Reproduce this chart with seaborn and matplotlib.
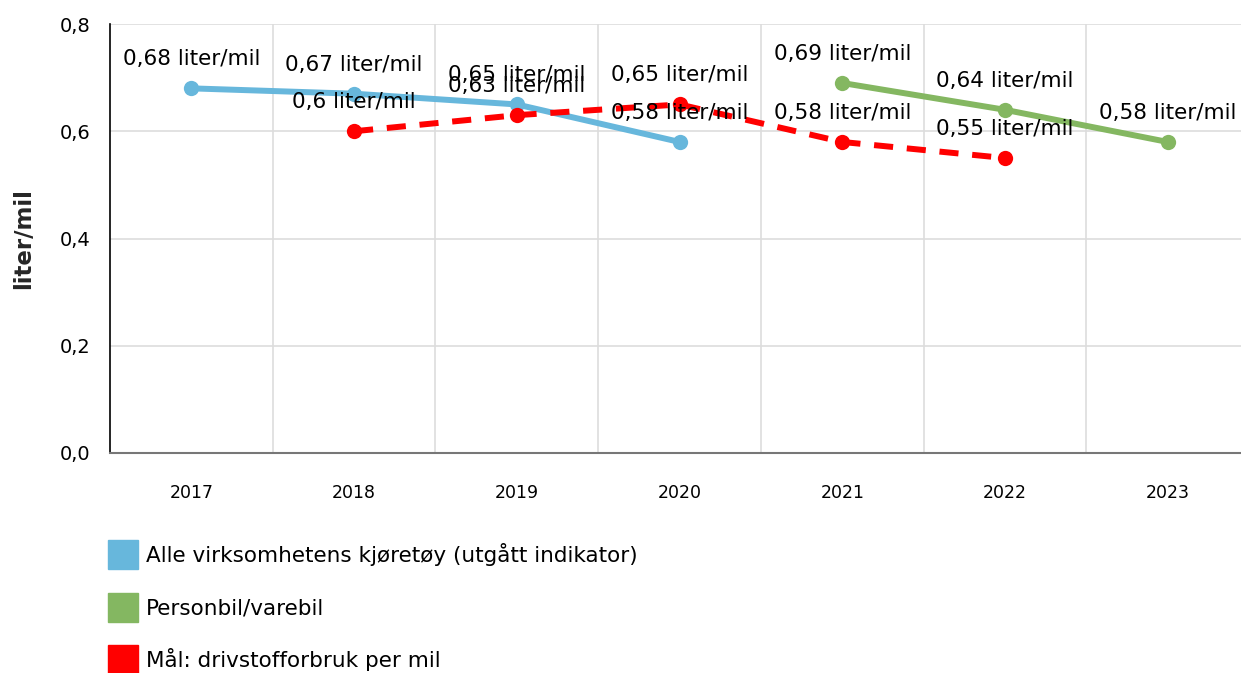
import numpy as np
import pandas as pd
import matplotlib
matplotlib.use('Agg')
import matplotlib.pyplot as plt
import seaborn as sns
from matplotlib.patches import Patch

years = [2017, 2018, 2019, 2020, 2021, 2022, 2023]

blue_years = [2017, 2018, 2019, 2020]
blue_vals = [0.68, 0.67, 0.65, 0.58]
blue_labels = ['0,68 liter/mil', '0,67 liter/mil', '0,65 liter/mil', '0,58 liter/mil']

green_years = [2021, 2022, 2023]
green_vals = [0.69, 0.64, 0.58]
green_labels = ['0,69 liter/mil', '0,64 liter/mil', '0,58 liter/mil']

red_years = [2018, 2019, 2020, 2021, 2022]
red_vals = [0.60, 0.63, 0.65, 0.58, 0.55]
red_labels = ['0,6 liter/mil', '0,63 liter/mil', '0,65 liter/mil', '0,58 liter/mil', '0,55 liter/mil']

legend_names = ['Alle virksomhetens kjøretøy (utgått indikator)',
                'Personbil/varebil',
                'Mål: drivstofforbruk per mil']

c_blue = '#67b7dc'
c_green = '#84b761'
c_red = '#ff0000'

sns.set_style('white')
plt.rcParams['font.family'] = ['DejaVu Sans']
plt.rcParams['text.color'] = 'black'
plt.rcParams['xtick.color'] = 'black'
plt.rcParams['ytick.color'] = 'black'

fig = plt.figure(figsize=(12.41, 6.73), dpi=100)
ax = fig.add_axes([110/1241, 1 - 453/673, 1 - 110/1241, (453 - 24)/673])

sns.lineplot(x=blue_years, y=blue_vals, ax=ax, color=c_blue, linewidth=4.3,
             marker='o', markersize=11, markeredgewidth=0, zorder=3)
sns.lineplot(x=green_years, y=green_vals, ax=ax, color=c_green, linewidth=4.3,
             marker='o', markersize=11, markeredgewidth=0, zorder=3)
sns.lineplot(x=red_years, y=red_vals, ax=ax, color=c_red, linewidth=4.3,
             linestyle=(0, (3.2, 2.3)), marker='o', markersize=11,
             markeredgewidth=0, zorder=4)

for xs, ys, labs in [(blue_years, blue_vals, blue_labels),
                     (green_years, green_vals, green_labels),
                     (red_years, red_vals, red_labels)]:
    for x, y, t in zip(xs, ys, labs):
        ax.annotate(t, (x, y), xytext=(0, 21), textcoords='offset points',
                    ha='center', va='center', fontsize=15.5, color='black', zorder=6)

ax.set_xlim(2016.5, 2023.45)
ax.set_ylim(0, 0.8)
ax.set_yticks([0, 0.2, 0.4, 0.6, 0.8])
ax.set_yticklabels(['0,0', '0,2', '0,4', '0,6', '0,8'], fontsize=14)
ax.set_xticks(years)
ax.set_xticklabels([str(y) for y in years], fontsize=12.5)
ax.set_xticks([y + 0.5 for y in years[:-1]], minor=True)

ax.grid(False)
ax.yaxis.grid(True, color='#dddddd', linewidth=1.2)
ax.xaxis.grid(True, which='minor', color='#dddddd', linewidth=1.2)
ax.set_axisbelow(True)

for s in ['top', 'right']:
    ax.spines[s].set_visible(False)
ax.spines['left'].set_color('black')
ax.spines['left'].set_linewidth(1.2)
ax.spines['bottom'].set_color('#777777')
ax.spines['bottom'].set_linewidth(1.5)

ax.tick_params(axis='y', which='major', length=8, width=1.2, color='black', pad=6)
ax.tick_params(axis='x', which='major', length=8, width=1, color='#999999', pad=14,
               direction='out')
ax.tick_params(axis='x', which='minor', length=0)

ax.set_xlabel('')
ax.set_ylabel('liter/mil', fontsize=16.5, fontweight='bold', labelpad=18)

handles = [Patch(facecolor=c, edgecolor=c) for c in [c_blue, c_green, c_red]]
fig.legend(handles, legend_names, loc='upper left',
           bbox_to_anchor=(108/1241, 1 - 540/673), frameon=False, fontsize=15.5,
           handlelength=1.4, handleheight=1.7, handletextpad=0.35,
           labelspacing=1.1, borderaxespad=0, borderpad=0)

fig.savefig('out.png', dpi=100)
